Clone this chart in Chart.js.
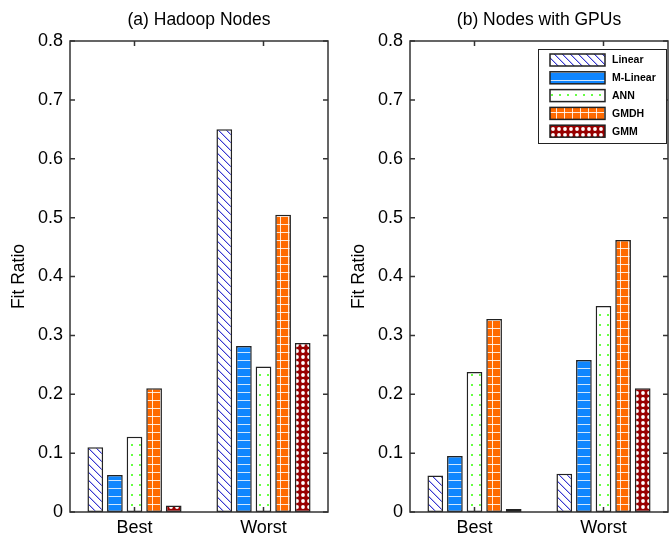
<!DOCTYPE html>
<html>
<head>
<meta charset="utf-8">
<title>Fit Ratio</title>
<script src="https://cdn.jsdelivr.net/npm/chart.js@4.4.0/dist/chart.umd.min.js"></script>
<style>
  body { margin: 0; background: #fff; }
  #wrap { position: relative; width: 670px; height: 538px; overflow: hidden; }
  #wrap canvas { position: absolute; top: 0; }
  #hadoop { left: 0; }
  #gpus { left: 340px; }
</style>
</head>
<body>
<div id="wrap">
  <canvas id="hadoop" width="335" height="538"></canvas>
  <canvas id="gpus" width="330" height="538"></canvas>
</div>
<script>
const categories = ['Best', 'Worst'];
const models = ['Linear', 'M-Linear', 'ANN', 'GMDH', 'GMM'];
const yTicks = [0, 0.1, 0.2, 0.3, 0.4, 0.5, 0.6, 0.7, 0.8];

// (a) Hadoop nodes
const hadoopLinear  = [0.110, 0.650];
const hadoopMLinear = [0.063, 0.282];
const hadoopANN     = [0.128, 0.247];
const hadoopGMDH    = [0.210, 0.505];
const hadoopGMM     = [0.011, 0.287];

// (b) nodes with GPUs
const gpuLinear  = [0.062, 0.065];
const gpuMLinear = [0.095, 0.258];
const gpuANN     = [0.238, 0.350];
const gpuGMDH    = [0.328, 0.462];
const gpuGMM     = [0.005, 0.210];

Chart.defaults.font.family = 'Arial, "Liberation Sans", sans-serif';
Chart.defaults.color = '#000';

// hatch fills, one per model
function makePattern(w, h, draw) {
    var c = document.createElement('canvas');
    c.width = w; c.height = h;
    var g = c.getContext('2d');
    draw(g, w, h);
    return g.createPattern(c, 'repeat');
}

var patterns = [
    makePattern(8, 8, function(g, w, h) {
        g.fillStyle = '#fff'; g.fillRect(0, 0, w, h);
        g.fillStyle = '#3a3ad0';
        for (var i = 0; i < w; i++) g.fillRect(i, i, 1, 1);
        g.fillStyle = 'rgba(58,58,208,0.35)';
        for (var j = 0; j < w; j++) g.fillRect((j + 1) % w, j, 1, 1);
    }),
    makePattern(8, 8, function(g, w, h) {
        g.fillStyle = '#0f86ff'; g.fillRect(0, 0, w, h);
        g.fillStyle = 'rgba(255,255,255,0.8)'; g.fillRect(0, 0, w, 1);
    }),
    makePattern(8, 10, function(g, w, h) {
        g.fillStyle = '#fff'; g.fillRect(0, 0, w, h);
        g.fillStyle = '#66ff44'; g.fillRect(3, 4, 2, 2);
    }),
    makePattern(8, 8, function(g, w, h) {
        g.fillStyle = '#ff6a00'; g.fillRect(0, 0, w, h);
        g.fillStyle = 'rgba(255,255,255,0.85)';
        g.fillRect(0, 0, w, 1); g.fillRect(0, 0, 1, h);
    }),
    makePattern(6, 6, function(g, w, h) {
        g.fillStyle = '#990000'; g.fillRect(0, 0, w, h);
        g.fillStyle = '#fff';
        g.beginPath(); g.arc(3, 3, 1.9, 0, Math.PI * 2); g.fill();
    })
];

// matlab style box with inward ticks
var axisBox = {
    id: 'axisBox',
    afterDatasetsDraw: function(chart) {
        var ctx = chart.ctx, a = chart.chartArea, x = chart.scales.x, y = chart.scales.y;
        ctx.save();
        ctx.strokeStyle = '#333';
        ctx.lineWidth = 1.5;
        ctx.strokeRect(a.left, a.top, a.width, a.height);
        ctx.beginPath();
        y.ticks.forEach(function(t) {
            var py = y.getPixelForValue(t.value);
            ctx.moveTo(a.left, py); ctx.lineTo(a.left + 5, py);
            ctx.moveTo(a.right, py); ctx.lineTo(a.right - 5, py);
        });
        x.ticks.forEach(function(t, i) {
            var px = x.getPixelForTick(i);
            ctx.moveTo(px, a.top); ctx.lineTo(px, a.top + 5);
            ctx.moveTo(px, a.bottom); ctx.lineTo(px, a.bottom - 5);
        });
        ctx.stroke();
        ctx.restore();
    }
};

// boxed legend in the top right of the plot
var boxLegend = {
    id: 'boxLegend',
    afterDraw: function(chart, args, opts) {
        if (!opts.show) return;
        var ctx = chart.ctx, bx = 198, by = 49;
        ctx.save();
        ctx.fillStyle = '#fff';
        ctx.fillRect(bx, by, 128, 94);
        ctx.strokeStyle = '#222';
        ctx.lineWidth = 1;
        ctx.strokeRect(bx + 0.5, by + 0.5, 128, 94);
        chart.data.datasets.forEach(function(ds, i) {
            var sy = 54 + i * 17.8;
            ctx.fillStyle = ds.backgroundColor;
            ctx.fillRect(210, sy, 55, 12);
            ctx.lineWidth = 1.5;
            ctx.strokeRect(210, sy, 55, 12);
            ctx.fillStyle = '#000';
            ctx.font = 'bold 10.5px Arial, "Liberation Sans", sans-serif';
            ctx.textBaseline = 'middle';
            ctx.fillText(ds.label, 272, sy + 6.5);
        });
        ctx.restore();
    }
};

function makeChart(id, title, values, padRight, showLegend) {
    var datasets = models.map(function(name, i) {
        return {
            label: name,
            data: values[i],
            backgroundColor: patterns[i],
            borderColor: '#222',
            borderWidth: 1.5,
            borderSkipped: false,
            barPercentage: 0.8,
            categoryPercentage: 0.76
        };
    });
    var ctx = document.getElementById(id).getContext('2d');
    return new Chart(ctx, {
        type: 'bar',
        data: {labels: categories, datasets: datasets},
        options: {
            responsive: false,
            animation: false,
            layout: {padding: {left: 0, right: padRight, top: 0, bottom: 0}},
            plugins: {
                legend: {display: false},
                tooltip: {enabled: false},
                title: {
                    display: true,
                    fullSize: false,
                    text: title,
                    font: {size: 17.5, weight: 'normal'},
                    padding: {top: 10, bottom: 10}
                },
                boxLegend: {show: showLegend}
            },
            scales: {
                x: {
                    grid: {display: false, drawTicks: false},
                    border: {display: false},
                    ticks: {font: {size: 18}, padding: 5},
                    afterFit: function(s) { s.height = 26; }
                },
                y: {
                    min: 0,
                    max: 0.8,
                    grid: {display: false, drawTicks: false},
                    border: {display: false},
                    ticks: {font: {size: 18}, padding: 7},
                    afterBuildTicks: function(s) {
                        s.ticks = yTicks.map(function(v) { return {value: v}; });
                    },
                    title: {display: true, text: 'Fit Ratio', font: {size: 17.5}, padding: {top: 9, bottom: 0}},
                    afterFit: function(s) { s.width = 70; }
                }
            }
        },
        plugins: [axisBox, boxLegend]
    });
}

makeChart('hadoop', '(a) Hadoop Nodes',
    [hadoopLinear, hadoopMLinear, hadoopANN, hadoopGMDH, hadoopGMM], 7, false);
makeChart('gpus', '(b) Nodes with GPUs',
    [gpuLinear, gpuMLinear, gpuANN, gpuGMDH, gpuGMM], 2, true);
</script>
</body>
</html>
